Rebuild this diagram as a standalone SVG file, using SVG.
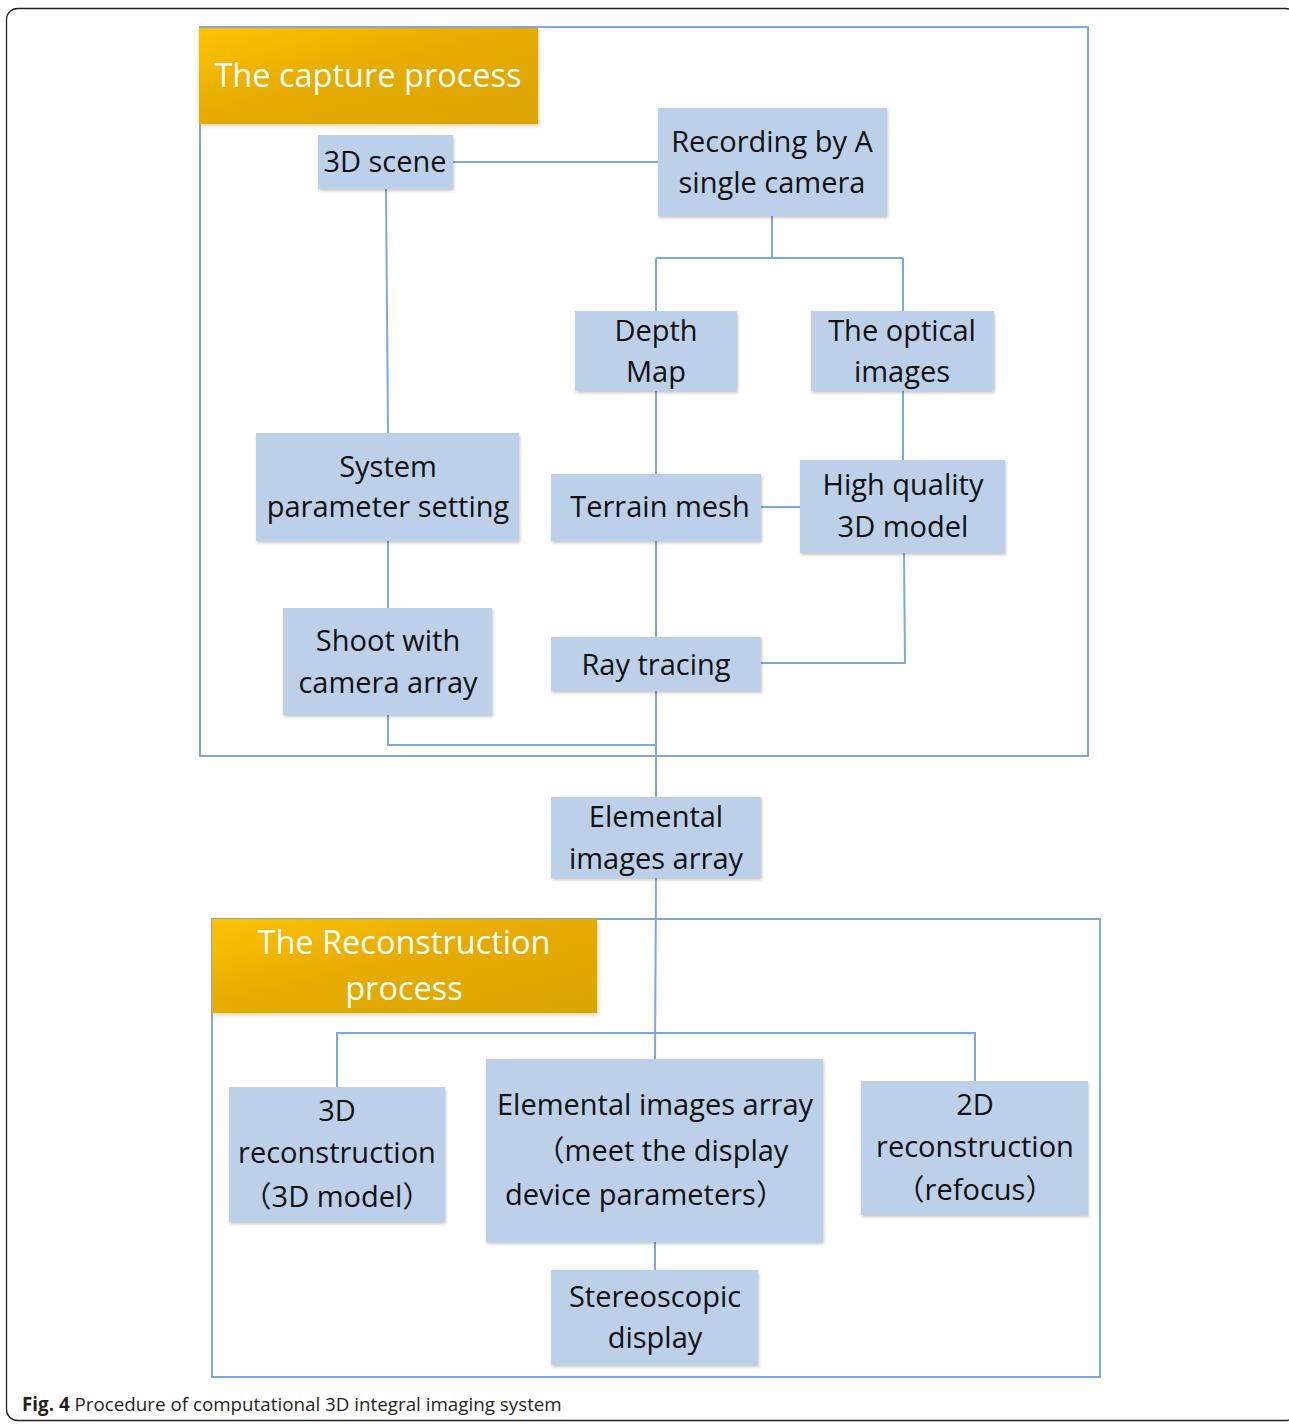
<svg xmlns="http://www.w3.org/2000/svg" width="1289" height="1424" viewBox="0 0 1289 1424">
  <defs>
    <linearGradient id="gold" x1="0" y1="0" x2="1" y2="1">
      <stop offset="0" stop-color="#FFC300"/>
      <stop offset="0.45" stop-color="#E6AC00"/>
      <stop offset="1" stop-color="#DBA400"/>
    </linearGradient>
    <filter id="sh" x="-10%" y="-10%" width="125%" height="130%">
      <feDropShadow dx="1" dy="2" stdDeviation="1.5" flood-color="#000" flood-opacity="0.22"/>
    </filter>
    <filter id="shg" x="-10%" y="-10%" width="125%" height="130%">
      <feDropShadow dx="1" dy="2" stdDeviation="2" flood-color="#B08000" flood-opacity="0.35"/>
    </filter>
  </defs>
  <style>
    .frame { fill: none; stroke: #7FA9DA; stroke-width: 2; }
    .box { fill: #BDD0EA; filter: url(#sh); }
    .gold { fill: url(#gold); filter: url(#shg); }
    .t { font-family: "Open Sans", "Noto Sans CJK SC", sans-serif; font-size: 29px; fill: #111; text-anchor: middle; }
    .tt { font-family: "Open Sans", "Noto Sans", sans-serif; font-size: 32.5px; fill: #fff; text-anchor: middle; }
    .conn { fill: none; stroke: #7FA9DA; stroke-width: 2; }
    .cap { font-family: "Open Sans", "Liberation Sans", sans-serif; font-size: 18.8px; fill: #231F20; }
  </style>
  <rect width="1289" height="1424" fill="#fff"/>
  <rect x="6.5" y="8.5" width="1290" height="1412" rx="11" fill="none" stroke="#222" stroke-width="1.3"/>

  <g id="capture-frame">
    <rect class="frame" x="200" y="27" width="888" height="729"/>
  </g>
  <g id="reconstruction-frame">
    <rect class="frame" x="212" y="919" width="888" height="458"/>
  </g>

  <g id="connectors">
    <path class="conn" d="M453 162 H658"/>
    <path class="conn" d="M386 189 L388 433"/>
    <path class="conn" d="M772 216 V258 M656 258 H903 M656 258 V311 M903 258 V311"/>
    <path class="conn" d="M656 391 V474"/>
    <path class="conn" d="M903 391 V460"/>
    <path class="conn" d="M761 507 H800"/>
    <path class="conn" d="M656 541 V637"/>
    <path class="conn" d="M904 553 L905 663 H761"/>
    <path class="conn" d="M388 541 V608"/>
    <path class="conn" d="M388 715 V745 H656"/>
    <path class="conn" d="M656 691 V797"/>
    <path class="conn" d="M656 878 L655 1059"/>
    <path class="conn" d="M337 1087 V1033 H975 V1081"/>
    <path class="conn" d="M655 1242 V1270"/>
  </g>

  <g id="title-capture">
    <rect class="gold" x="199" y="28" width="339" height="96"/>
    <text class="tt" x="368" y="87">The capture process</text>
  </g>
  <g id="title-reconstruction">
    <rect class="gold" x="212" y="919" width="385" height="94"/>
    <text class="tt" x="404" y="954">The Reconstruction</text>
    <text class="tt" x="404" y="1000">process</text>
  </g>

  <g id="n-3dscene">
    <rect class="box" x="318" y="135" width="135" height="54"/>
    <text class="t" x="385" y="172">3D scene</text>
  </g>
  <g id="n-recording">
    <rect class="box" x="658" y="108" width="229" height="108"/>
    <text class="t" x="772" y="152">Recording by A</text>
    <text class="t" x="772" y="193">single camera</text>
  </g>
  <g id="n-depth">
    <rect class="box" x="575" y="311" width="162" height="80"/>
    <text class="t" x="656" y="341">Depth</text>
    <text class="t" x="656" y="382">Map</text>
  </g>
  <g id="n-optical">
    <rect class="box" x="811" y="311" width="183" height="80"/>
    <text class="t" x="902" y="341">The optical</text>
    <text class="t" x="902" y="382">images</text>
  </g>
  <g id="n-system">
    <rect class="box" x="256" y="433" width="263" height="108"/>
    <text class="t" x="388" y="477">System</text>
    <text class="t" x="388" y="517">parameter setting</text>
  </g>
  <g id="n-terrain">
    <rect class="box" x="551" y="474" width="210" height="67"/>
    <text class="t" x="660" y="517">Terrain mesh</text>
  </g>
  <g id="n-highquality">
    <rect class="box" x="800" y="460" width="205" height="93"/>
    <text class="t" x="903" y="495">High quality</text>
    <text class="t" x="903" y="537">3D model</text>
  </g>
  <g id="n-shoot">
    <rect class="box" x="283" y="608" width="209" height="107"/>
    <text class="t" x="388" y="651">Shoot with</text>
    <text class="t" x="388" y="693">camera array</text>
  </g>
  <g id="n-raytracing">
    <rect class="box" x="551" y="637" width="210" height="54"/>
    <text class="t" x="656" y="675">Ray tracing</text>
  </g>
  <g id="n-elemental">
    <rect class="box" x="551" y="797" width="210" height="81"/>
    <text class="t" x="656" y="827">Elemental</text>
    <text class="t" x="656" y="869">images array</text>
  </g>
  <g id="n-3drecon">
    <rect class="box" x="229" y="1087" width="216" height="135"/>
    <text class="t" x="337" y="1121">3D</text>
    <text class="t" x="337" y="1163">reconstruction</text>
    <text class="t" x="337" y="1207">（3D model）</text>
  </g>
  <g id="n-eia-display">
    <rect class="box" x="486" y="1059" width="337" height="183"/>
    <text class="t" x="655" y="1115">Elemental images array</text>
    <text class="t" x="662" y="1161">（meet the display</text>
    <text class="t" x="645" y="1205">device parameters）</text>
  </g>
  <g id="n-2drecon">
    <rect class="box" x="861" y="1081" width="227" height="134"/>
    <text class="t" x="975" y="1115">2D</text>
    <text class="t" x="975" y="1157">reconstruction</text>
    <text class="t" x="975" y="1200">（refocus）</text>
  </g>
  <g id="n-stereo">
    <rect class="box" x="551" y="1270" width="207" height="95"/>
    <text class="t" x="655" y="1307">Stereoscopic</text>
    <text class="t" x="655" y="1348">display</text>
  </g>

  <text class="cap" x="22" y="1411"><tspan font-weight="bold">Fig. 4</tspan> Procedure of computational 3D integral imaging system</text>
</svg>
